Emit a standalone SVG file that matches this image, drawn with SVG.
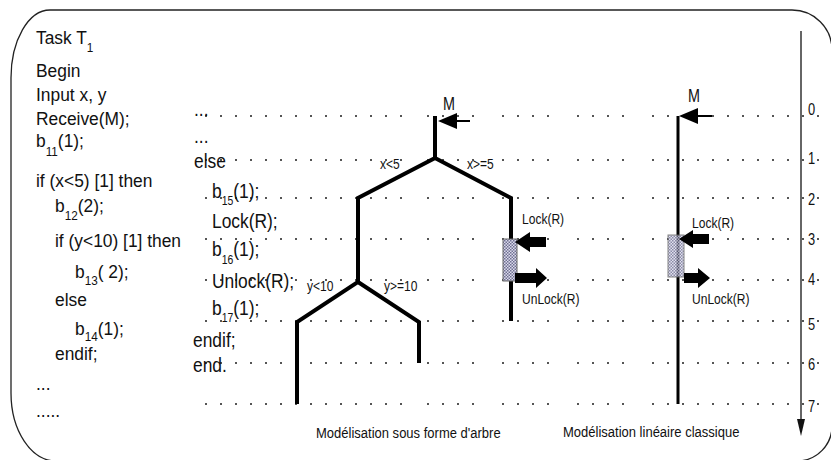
<svg xmlns="http://www.w3.org/2000/svg" width="831" height="460" viewBox="0 0 831 460">
  <defs>
    <style>
      text { font-family: "Liberation Sans", Arial, sans-serif; fill: #111; }
      .code { font-size: 18.5px; }
      .mid { font-size: 20px; }
      .sub { font-size: 12.5px; }
      .msub { font-size: 12px; }
      .lbl { font-size: 14px; }
      .cap { font-size: 15.5px; }
      .num { font-size: 16.5px; }
      .mk { font-size: 18px; }
      .grid { fill: none; stroke: #555; stroke-width: 2; stroke-dasharray: 2 13; }
      .branch { fill: none; stroke: #000; stroke-width: 4; stroke-linejoin: miter; }
      .block { fill: #000; }
      .res { fill: url(#hatch); stroke: #666; stroke-width: 1; }
    </style>
    <pattern id="hatch" width="3" height="3" patternUnits="userSpaceOnUse">
      <rect width="3" height="3" fill="#dcdcec"/>
      <rect width="1.5" height="1.5" fill="#6f6f92"/>
      <rect x="1.5" y="1.5" width="1.5" height="1.5" fill="#6f6f92"/>
    </pattern>
  </defs>

  <rect width="831" height="460" fill="#fff"/>

  <!-- rounded outer frame -->
  <path id="frame" d="M50 10 H792 A40 40 0 0 1 832 50 V425 A35 35 0 0 1 797 461 H56 A45 68 0 0 1 11 393 V78 A39 68 0 0 1 50 10 Z" fill="none" stroke="#222" stroke-width="1.3"/>

  <!-- dotted time rows 0..7 -->
  <g id="grid">
    <path class="grid" d="M205 116H402M427 116H474M502 116H549M577 116H624M652 116H819"/>
    <path class="grid" d="M205 160H402M427 160H474M502 160H549M577 160H624M652 160H819"/>
    <path class="grid" d="M205 198H402M427 198H474M502 198H549M577 198H624M652 198H819"/>
    <path class="grid" d="M205 239H402M427 239H474M502 239H549M577 239H624M652 239H819"/>
    <path class="grid" d="M205 280H402M427 280H474M502 280H549M577 280H624M652 280H819"/>
    <path class="grid" d="M205 321H402M427 321H474M502 321H549M577 321H624M652 321H819"/>
    <path class="grid" d="M205 363H402M427 363H474M502 363H549M577 363H624M652 363H819"/>
    <path class="grid" d="M205 404H402M427 404H474M502 404H549M577 404H624M652 404H819"/>
  </g>

  <!-- task source code -->
  <g id="code-task">
    <text class="code" transform="translate(36,44) scale(.94,1)">Task T<tspan class="sub" dy="8">1</tspan></text>
    <text class="code" transform="translate(36,77) scale(.94,1)">Begin</text>
    <text class="code" transform="translate(36,101) scale(.94,1)">Input x, y</text>
    <text class="code" transform="translate(36,125) scale(.94,1)">Receive(M);</text>
    <text class="code" transform="translate(36,147) scale(.94,1)">b<tspan class="sub" dy="9">11</tspan><tspan dy="-9">(1);</tspan></text>
    <text class="code" transform="translate(36,187) scale(.94,1)">if (x&lt;5) [1] then</text>
    <text class="code" transform="translate(55,212) scale(.94,1)">b<tspan class="sub" dy="8">12</tspan><tspan dy="-8">(2);</tspan></text>
    <text class="code" transform="translate(55,247) scale(.94,1)">if (y&lt;10) [1] then</text>
    <text class="code" transform="translate(75,278) scale(.94,1)">b<tspan class="sub" dy="7">13</tspan><tspan dy="-7">( 2);</tspan></text>
    <text class="code" transform="translate(55,306) scale(.94,1)">else</text>
    <text class="code" transform="translate(75,335) scale(.94,1)">b<tspan class="sub" dy="6">14</tspan><tspan dy="-6">(1);</tspan></text>
    <text class="code" transform="translate(55,360) scale(.94,1)">endif;</text>
    <text class="code" transform="translate(36,390) scale(.94,1)">...</text>
    <text class="code" transform="translate(36,417) scale(.94,1)">.....</text>
  </g>

  <!-- code aligned on the time rows -->
  <g id="code-rows">
    <text class="mid" transform="translate(194,116) scale(.87,1)">...</text>
    <text class="mid" transform="translate(194,143) scale(.87,1)">...</text>
    <text class="mid" transform="translate(194,168) scale(.87,1)">else</text>
    <text class="mid" transform="translate(212,198) scale(.87,1)">b<tspan class="msub" dy="7">15</tspan><tspan dy="-7">(1);</tspan></text>
    <text class="mid" transform="translate(212,228) scale(.87,1)">Lock(R);</text>
    <text class="mid" transform="translate(212,256) scale(.87,1)">b<tspan class="msub" dy="8">16</tspan><tspan dy="-8">(1);</tspan></text>
    <text class="mid" transform="translate(212,288) scale(.87,1)">Unlock(R);</text>
    <text class="mid" transform="translate(212,315) scale(.87,1)">b<tspan class="msub" dy="7">17</tspan><tspan dy="-7">(1);</tspan></text>
    <text class="mid" transform="translate(193,347) scale(.87,1)">endif;</text>
    <text class="mid" transform="translate(193,372) scale(.87,1)">end.</text>
  </g>

  <!-- branches of both models -->
  <g id="connectors">
    <polyline class="branch" points="435,116 435,158 358,198 358,282 297,322 297,404"/>
    <polyline class="branch" points="435,158 511,198 511,321"/>
    <polyline class="branch" points="358,282 419,322 419,363"/>
    <line x1="678" y1="116" x2="678" y2="404" stroke="#000" stroke-width="3"/>
    <!-- incoming message M -->
    <line x1="456" y1="121" x2="470" y2="121" stroke="#000" stroke-width="2"/>
    <polygon class="block" points="438,121 457,113 457,129"/>
    <line x1="697" y1="116" x2="712" y2="116" stroke="#000" stroke-width="2"/>
    <polygon class="block" points="679,116 698,108 698,124"/>
  </g>

  <!-- tree model: critical section on resource R -->
  <g id="tree-model">
    <rect class="res" x="503" y="239" width="14" height="42"/>
    <polygon class="block" points="515,242 530,232 530,237 546,237 546,247 530,247 530,252"/>
    <polygon class="block" points="515,273 536,273 536,268 547,278 536,288 536,283 515,283"/>
    <text class="mk" transform="translate(443,110) scale(.8,1)">M</text>
    <text class="lbl" transform="translate(380,169) scale(.86,1)">x&lt;5</text>
    <text class="lbl" transform="translate(467,169) scale(.86,1)">x&gt;=5</text>
    <text class="lbl" transform="translate(307,291) scale(.86,1)">y&lt;10</text>
    <text class="lbl" transform="translate(384,291) scale(.86,1)">y&gt;=10</text>
    <text class="lbl" transform="translate(522,224) scale(.86,1)">Lock(R)</text>
    <text class="lbl" transform="translate(522,304) scale(.86,1)">UnLock(R)</text>
    <text class="cap" transform="translate(316,438) scale(.84,1)">Modélisation sous forme d'arbre</text>
  </g>

  <!-- linear model -->
  <g id="linear-model">
    <rect class="res" x="668" y="235" width="16" height="42" opacity="0.8"/>
    <polygon class="block" points="679,239 693,230 693,234 709,234 709,244 693,244 693,248"/>
    <polygon class="block" points="684,273 698,273 698,268 710,278 698,288 698,283 684,283"/>
    <text class="mk" transform="translate(688,102) scale(.8,1)">M</text>
    <text class="lbl" transform="translate(692,228) scale(.86,1)">Lock(R)</text>
    <text class="lbl" transform="translate(692,304) scale(.86,1)">UnLock(R)</text>
    <text class="cap" transform="translate(563,437) scale(.84,1)">Modélisation linéaire classique</text>
  </g>

  <!-- time axis -->
  <g id="time-axis">
    <line x1="801" y1="31" x2="801" y2="421" stroke="#333" stroke-width="1.5"/>
    <polygon points="797,419 805,419 801,436" fill="#111"/>
    <text class="num" transform="translate(808,115) scale(.78,1)">0</text>
    <text class="num" transform="translate(808,164) scale(.78,1)">1</text>
    <text class="num" transform="translate(808,205) scale(.78,1)">2</text>
    <text class="num" transform="translate(808,245) scale(.78,1)">3</text>
    <text class="num" transform="translate(808,285) scale(.78,1)">4</text>
    <text class="num" transform="translate(808,330) scale(.78,1)">5</text>
    <text class="num" transform="translate(808,370) scale(.78,1)">6</text>
    <text class="num" transform="translate(808,412) scale(.78,1)">7</text>
  </g>
</svg>
